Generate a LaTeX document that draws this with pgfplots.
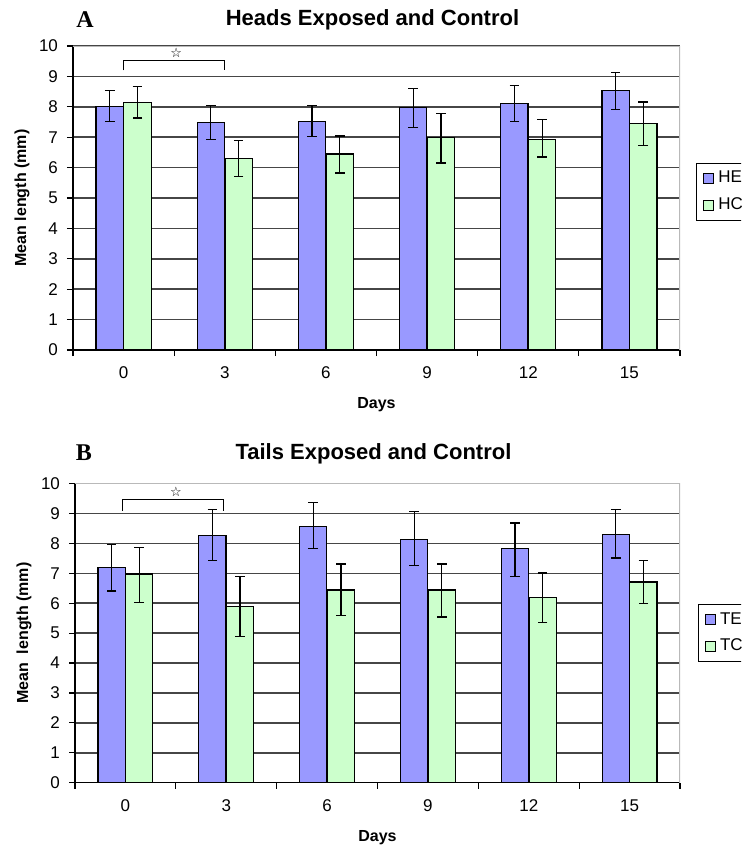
\documentclass[border=0pt]{standalone}
\usepackage{pgfplots}
\pgfplotsset{compat=1.18}
\usepackage{pgfplotstable}
\usepackage{fontspec}
\setmainfont{Liberation Sans}
\newfontfamily\serifbold{Liberation Serif}
\newfontfamily\symfont{DejaVu Sans}
\definecolor{expblue}{RGB}{153,153,255}
\definecolor{ctlgreen}{RGB}{204,255,204}
\definecolor{gridc}{RGB}{70,70,70}
\definecolor{framec}{RGB}{185,185,185}

% x = category index, y = mean, ep = error plus, em = error minus
\pgfplotstableread{
x y ep em
0 8.00 0.53 0.49
1 7.48 0.55 0.55
2 7.51 0.52 0.49
3 7.98 0.62 0.67
4 8.12 0.58 0.60
5 8.53 0.60 0.63
}\HE
\pgfplotstableread{
x y ep em
0 8.15 0.52 0.52
1 6.30 0.58 0.58
2 6.45 0.59 0.63
3 6.98 0.80 0.83
4 6.93 0.64 0.58
5 7.45 0.71 0.71
}\HC
\pgfplotstableread{
x y ep em
0 7.20 0.76 0.79
1 8.26 0.87 0.84
2 8.57 0.80 0.75
3 8.14 0.93 0.87
4 7.82 0.86 0.92
5 8.29 0.84 0.78
}\TE
\pgfplotstableread{
x y ep em
0 6.98 0.89 0.96
1 5.88 1.02 1.00
2 6.44 0.87 0.86
3 6.44 0.87 0.90
4 6.19 0.82 0.84
5 6.71 0.73 0.72
}\TC

\pgfplotsset{
  panel/.style={
    scale only axis,
    anchor=south west,
    ybar,
    bar width=0.27,
    xmin=-0.5, xmax=5.5,
    ymin=0, ymax=10,
    ytick={0,1,...,10},
    xtick={0,1,2,3,4,5},
    xticklabels={0,3,6,9,12,15},
    minor xtick={-0.5,0.5,1.5,2.5,3.5,4.5,5.5},
    major x tick style={draw=none},
    minor tick length=3pt,
    major tick length=3pt,
    tick align=outside,
    tick pos=left,
    axis x line*=bottom,
    axis y line*=left,
    axis line style={black, line width=0.6pt},
    tick style={black, line width=0.6pt},
    ymajorgrids,
    grid style={gridc, line width=0.8pt},
    /pgf/number format/assume math mode=true,
    ticklabel style={font=\fontsize{8.5}{9}\selectfont},
    yticklabel style={xshift=-1pt},
    xticklabel style={yshift=-2pt},
    xlabel={Days},
    xlabel style={font=\bfseries\fontsize{8}{9}\selectfont, at={(axis description cs:0.5,0)}, anchor=center, yshift=-27.5pt},
    ylabel style={font=\bfseries\fontsize{8}{9}\selectfont, at={(axis description cs:0,0.5)}, anchor=center, yshift=25.5pt},
    title style={font=\bfseries\fontsize{11}{12}\selectfont, at={(axis description cs:0.5,1)}, anchor=center, xshift=-2pt},
    legend style={draw=black, line width=0.5pt, fill=white, font=\fontsize{8.5}{9}\selectfont, anchor=west, row sep=2pt, inner xsep=3pt, inner ysep=2pt},
    legend cell align=left,
    legend image code/.code={\draw[#1, line width=0.5pt] (0pt,-2.6pt) rectangle (5.2pt,2.6pt);},
  },
  barA/.style={draw=black, line width=0.6pt, fill=expblue, bar shift=-0.137},
  barB/.style={draw=black, line width=0.6pt, fill=ctlgreen, bar shift=0.137},
  myerr/.style={error bars/.cd, y dir=both, y explicit,
      error bar style={black, line width=0.6pt},
      error mark options={black, line width=0.6pt, rotate=90, mark size=2.4pt}},
}

\begin{document}
\begin{tikzpicture}
\clip (0,0) rectangle (370.5pt,-425pt);
\fill[white] (0,0) rectangle (370.5pt,-425pt);

% Panel A
\begin{axis}[panel,
  at={(36.5pt,-175pt)}, width=303.5pt, height=152pt,
  title={Heads Exposed and Control}, title style={yshift=7pt},
  ylabel={Mean length (mm)},
  legend style={at={(1.027,0.52)}},
]
\addplot[barA, myerr] table[x=x, y=y, y error plus=ep, y error minus=em] {\HE};
\addplot[barB, myerr] table[x=x, y=y, y error plus=ep, y error minus=em] {\HC};
\legend{HE, HC}
\draw[framec, line width=0.8pt] (rel axis cs:0,1) -- (rel axis cs:1,1) -- (rel axis cs:1,0);
\draw[black, line width=0.5pt] (axis cs:0,9.2) -- (axis cs:0,9.53) -- (axis cs:1,9.53) -- (axis cs:1,9.2);
\node[font=\symfont\fontsize{6.5}{6.5}\selectfont, inner sep=0pt, text=black] at (axis cs:0.52,9.78) {☆};
\end{axis}
\node[font=\serifbold\bfseries\fontsize{12}{13}\selectfont] at (42.5pt,-10pt) {A};

% Panel B
\begin{axis}[panel,
  at={(37.5pt,-391.3pt)}, width=302.5pt, height=149.5pt,
  title={Tails Exposed and Control}, title style={yshift=9pt},
  ylabel={Mean~~length (mm)},
  legend style={at={(1.03,0.50)}},
]
\addplot[barA, myerr] table[x=x, y=y, y error plus=ep, y error minus=em] {\TE};
\addplot[barB, myerr] table[x=x, y=y, y error plus=ep, y error minus=em] {\TC};
\legend{TE, TC}
\draw[framec, line width=0.8pt] (rel axis cs:0,1) -- (rel axis cs:1,1) -- (rel axis cs:1,0);
\draw[black, line width=0.5pt] (axis cs:-0.03,9.1) -- (axis cs:-0.03,9.47) -- (axis cs:0.97,9.47) -- (axis cs:0.97,9.1);
\node[font=\symfont\fontsize{6.5}{6.5}\selectfont, inner sep=0pt, text=black] at (axis cs:0.5,9.74) {☆};
\end{axis}
\node[font=\serifbold\bfseries\fontsize{12}{13}\selectfont] at (42pt,-226.5pt) {B};
\end{tikzpicture}
\end{document}
